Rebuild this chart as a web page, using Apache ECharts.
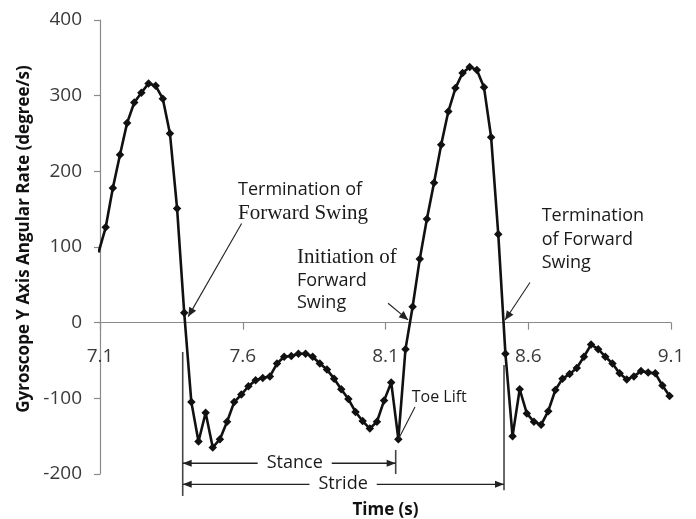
<!DOCTYPE html>
<html>
<head>
<meta charset="utf-8">
<script src="https://cdn.jsdelivr.net/npm/echarts@6/dist/echarts.min.js"></script>
<style>
  html, body { margin: 0; padding: 0; background: #ffffff; }
  #chart { width: 696px; height: 519px; }
</style>
</head>
<body>
<div id="chart"></div>
<script>
// Gyroscope samples (40 Hz): time in seconds
const times = [
  7.095, 7.12, 7.145, 7.17, 7.195, 7.22, 7.245, 7.27, 7.295, 7.32,
  7.345, 7.37, 7.395, 7.42, 7.445, 7.47, 7.495, 7.52, 7.545, 7.57,
  7.595, 7.62, 7.645, 7.67, 7.695, 7.72, 7.745, 7.77, 7.795, 7.82,
  7.845, 7.87, 7.895, 7.92, 7.945, 7.97, 7.995, 8.02, 8.045, 8.07,
  8.095, 8.12, 8.145, 8.17, 8.195, 8.22, 8.245, 8.27, 8.295, 8.32,
  8.345, 8.37, 8.395, 8.42, 8.445, 8.47, 8.495, 8.52, 8.545, 8.57,
  8.595, 8.62, 8.645, 8.67, 8.695, 8.72, 8.745, 8.77, 8.795, 8.82,
  8.845, 8.87, 8.895, 8.92, 8.945, 8.97, 8.995, 9.02, 9.045, 9.07,
  9.095
];

// Y-axis angular rate (degree/s) at each sample
const rates = [
  93, 126, 178, 222, 264, 291, 304, 316, 313, 296,
  250, 151, 13, -105, -157, -119, -165, -154, -131, -105,
  -95, -84, -76, -73, -71, -54, -45, -44, -41, -41,
  -45, -54, -62, -74, -88, -101, -118, -130, -140, -131,
  -103, -79, -154, -35, 21, 84, 137, 185, 235, 279,
  310, 330, 338, 334, 311, 245, 117, -41, -150, -88,
  -120, -131, -135, -117, -89, -74, -68, -60, -45, -29,
  -35, -45, -54, -67, -75, -71, -64, -66, -67, -83,
  -97
];

const xTickLabels = [7.1, 7.6, 8.1, 8.6, 9.1];
const yTickLabels = [-200, -100, 0, 100, 200, 300, 400];

// Gait events (s)
const swingEndTime1 = 7.3897;
const toeLiftTime = 8.1357;
const swingEndTime2 = 8.5151;

const SANS = '"Open Sans", sans-serif';
const SERIF = '"Liberation Serif", "Times New Roman", serif';
const AXIS_GREY = '#8a8a8a';
const LABEL_GREY = '#3a3a3a';

const chart = echarts.init(document.getElementById('chart'), null, { renderer: 'canvas' });

chart.setOption({
  animation: false,
  backgroundColor: '#ffffff',
  grid: { left: 100, right: 25, top: 20, bottom: 45 },
  xAxis: {
    type: 'value',
    min: xTickLabels[0],
    max: xTickLabels[xTickLabels.length - 1],
    axisLine: { show: true, onZero: true, lineStyle: { color: AXIS_GREY, width: 1.2 } },
    axisTick: { show: true, length: 7, customValues: xTickLabels, lineStyle: { color: AXIS_GREY, width: 1.2 } },
    // tick labels sit just under the zero line; drawn below as graphics
    axisLabel: { show: false },
    splitLine: { show: false }
  },
  yAxis: {
    type: 'value',
    min: yTickLabels[0],
    max: yTickLabels[yTickLabels.length - 1],
    interval: 100,
    axisLine: { show: true, lineStyle: { color: AXIS_GREY, width: 1.2 } },
    axisTick: { show: true, length: 6, lineStyle: { color: AXIS_GREY, width: 1.2 } },
    axisLabel: { margin: 18, fontFamily: SANS, fontSize: 19, color: LABEL_GREY },
    splitLine: { show: false }
  },
  series: [{
    type: 'line',
    data: times.map((t, i) => [t, rates[i]]),
    clip: true,
    symbol: 'diamond',
    symbolSize: 8.5,
    showAllSymbol: true,
    itemStyle: { color: '#111111' },
    lineStyle: { color: '#111111', width: 2.6 },
    z: 3
  }]
});

// ---- annotations, anchored in data coordinates ----
const px = (t, v) => chart.convertToPixel({ gridIndex: 0 }, [t, v]);

function arrowHead(tip, from, len, half, color) {
  const dx = tip[0] - from[0], dy = tip[1] - from[1];
  const d = Math.hypot(dx, dy) || 1;
  const ux = dx / d, uy = dy / d;
  const bx = tip[0] - ux * len, by = tip[1] - uy * len;
  return {
    type: 'polygon',
    shape: { points: [tip, [bx - uy * half, by + ux * half], [bx + uy * half, by - ux * half]] },
    style: { fill: color },
    z: 20, silent: true
  };
}

function pointer(tail, head, withHead) {
  const a = px(tail[0], tail[1]);
  const b = px(head[0], head[1]);
  const els = [{
    type: 'line',
    shape: { x1: a[0], y1: a[1], x2: b[0], y2: b[1] },
    style: { stroke: '#222222', lineWidth: 1.1 },
    z: 20, silent: true
  }];
  if (withHead) els.push(arrowHead(b, a, 9, 4, '#222222'));
  return els;
}

function textLines(anchor, lines, lineGap) {
  const p = px(anchor[0], anchor[1]);
  return lines.map((ln, i) => ({
    type: 'text',
    x: p[0],
    y: p[1] + 2 + i * lineGap,
    style: {
      text: ln.text,
      font: ln.font,
      fill: '#1a1a1a',
      align: 'left',
      verticalAlign: 'bottom'
    },
    z: 20, silent: true
  }));
}

function dimension(t1, t2, level, label, labelT) {
  const a = px(t1, level), b = px(t2, level);
  const c = px(labelT, level);
  return [
    {
      type: 'line',
      shape: { x1: a[0], y1: a[1], x2: b[0], y2: b[1] },
      style: { stroke: '#222222', lineWidth: 1.3 },
      z: 20, silent: true
    },
    arrowHead(a, b, 9, 3.5, '#222222'),
    arrowHead(b, a, 9, 3.5, '#222222'),
    {
      type: 'text',
      x: c[0], y: c[1],
      style: {
        text: label, font: '18px ' + SANS, fill: '#1a1a1a',
        align: 'center', verticalAlign: 'middle',
        backgroundColor: '#ffffff', padding: [0, 9, 0, 9]
      },
      z: 21, silent: true
    }
  ];
}

function marker(t, v1, v2) {
  const a = px(t, v1), b = px(t, v2);
  return {
    type: 'line',
    shape: { x1: a[0], y1: a[1], x2: b[0], y2: b[1] },
    style: { stroke: '#444444', lineWidth: 1.6 },
    z: 20, silent: true
  };
}

// x tick labels hang under the zero line
const xLabels = xTickLabels.map(v => {
  const p = px(v, 0);
  return {
    type: 'text',
    x: p[0], y: p[1] + 34,
    style: {
      text: v.toFixed(1), font: '19px ' + SANS, fill: LABEL_GREY,
      align: 'center', verticalAlign: 'middle'
    },
    z: 15, silent: true
  };
});

const sans18 = '18px ' + SANS;
const serif21 = '21px ' + SERIF;

const pXTitle = px(8.1, -200);

const graphics = [].concat(
  xLabels,
  pointer([7.596, 131], [7.409, 8], true),
  pointer([8.109, 25.6], [8.179, 3.6], true),
  pointer([8.606, 53], [8.519, 3.6], true),
  pointer([8.2033, -111.4], [8.1438, -155], false),
  textLines([7.5834, 166.1], [
    { text: 'Termination of', font: sans18 },
    { text: 'Forward Swing', font: serif21 }
  ], 25),
  textLines([7.790, 74.9], [
    { text: 'Initiation of', font: serif21 },
    { text: 'Forward', font: sans18 },
    { text: 'Swing', font: sans18 }
  ], 22),
  textLines([8.647, 131.8], [
    { text: 'Termination', font: sans18 },
    { text: 'of Forward', font: sans18 },
    { text: 'Swing', font: sans18 }
  ], 23.5),
  textLines([8.1918, -106.1], [
    { text: 'Toe Lift', font: '16px ' + SANS }
  ], 0),
  [
    marker(swingEndTime1, -38.7, -229),
    marker(toeLiftTime, -168.2, -200),
    marker(swingEndTime2, -55.9, -221.4)
  ],
  dimension(swingEndTime1, toeLiftTime, -185.8, 'Stance', 7.782),
  dimension(swingEndTime1, swingEndTime2, -213.6, 'Stride', 7.9515),
  [
    {
      type: 'text',
      x: 24, y: 239,
      rotation: Math.PI / 2,
      style: {
        text: 'Gyroscope Y Axis Angular Rate (degree/s)',
        font: 'bold 17px ' + SANS, fill: '#111111',
        align: 'center', verticalAlign: 'middle'
      },
      z: 20, silent: true
    },
    {
      type: 'text',
      x: pXTitle[0], y: 510,
      style: {
        text: 'Time (s)', font: 'bold 17px ' + SANS, fill: '#111111',
        align: 'center', verticalAlign: 'middle'
      },
      z: 20, silent: true
    }
  ]
);

chart.setOption({ graphic: graphics });
</script>
</body>
</html>
